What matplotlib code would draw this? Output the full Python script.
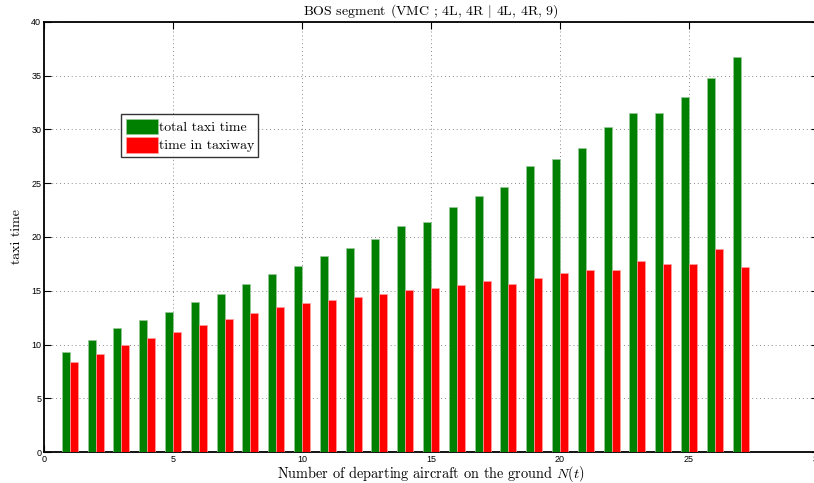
import numpy as np
import matplotlib
matplotlib.use("Agg")
import matplotlib.pyplot as plt

# number of departing aircraft on the ground
n_aircraft = list(range(1, 28))
total_taxi = [9.33, 10.41, 11.49, 12.24, 13.05, 13.92, 14.72, 15.6, 16.59, 17.3,
              18.2, 19.01, 19.85, 21.03, 21.44, 22.83, 23.83, 24.67, 26.63, 27.25,
              28.3, 30.2, 31.54, 31.5, 32.99, 34.83, 36.72]
taxiway_time = [8.33, 9.1, 10.0, 10.59, 11.18, 11.77, 12.33, 12.89, 13.45, 13.82,
                14.17, 14.45, 14.72, 15.03, 15.22, 15.56, 15.94, 15.63, 16.19, 16.65,
                16.96, 16.96, 17.8, 17.46, 17.49, 18.89, 17.18]

plt.rcParams['mathtext.fontset'] = 'cm'
serif = 'cmr10'

fig = plt.figure(figsize=(8.14, 4.83), dpi=100)
ax = fig.add_axes([44 / 814, 31 / 483, 774 / 814, 430 / 483])

x = np.array(n_aircraft)
w = 0.31
ax.bar(x - w / 2, total_taxi, w, color='#008000', edgecolor='#9cc89c', linewidth=0.5,
       label='total taxi time', zorder=3)
ax.bar(x + w / 2, taxiway_time, w, color='#ff0000', edgecolor='#ffa0a0', linewidth=0.5,
       label='time in taxiway', zorder=3)

ax.set_xlim(0, 30)
ax.set_ylim(0, 40)
ax.set_xticks(range(0, 31, 5))
ax.set_yticks(range(0, 41, 5))
ax.tick_params(direction='in', top=True, right=True, labelsize=6.5, length=5,
               width=0.8, pad=2)
for lab in ax.get_xticklabels() + ax.get_yticklabels():
    lab.set_family('Liberation Sans')
ax.grid(True, linestyle=(0, (1, 3)), color='#888888', linewidth=0.7, zorder=0)
for s in ax.spines.values():
    s.set_linewidth(1.3)

ax.set_title(r'BOS segment (VMC ; 4L, 4R $|$ 4L, 4R, 9)', family=serif, fontsize=10, pad=5)
ax.set_xlabel(r'Number of departing aircraft on the ground $N(t)$', family=serif,
              fontsize=10.3, labelpad=0)
ax.set_ylabel('taxi time', family=serif, fontsize=10, labelpad=6)

leg = ax.legend(loc='upper left', bbox_to_anchor=(0.1, 0.785), prop={'family': serif, 'size': 10},
                frameon=True, fancybox=False, handlelength=2.3, handleheight=1.35,
                handletextpad=0.1, borderpad=0.3, labelspacing=0.2, borderaxespad=0)
leg.get_frame().set_edgecolor('black')
leg.get_frame().set_linewidth(1.0)

fig.savefig('out.png', dpi=100)
